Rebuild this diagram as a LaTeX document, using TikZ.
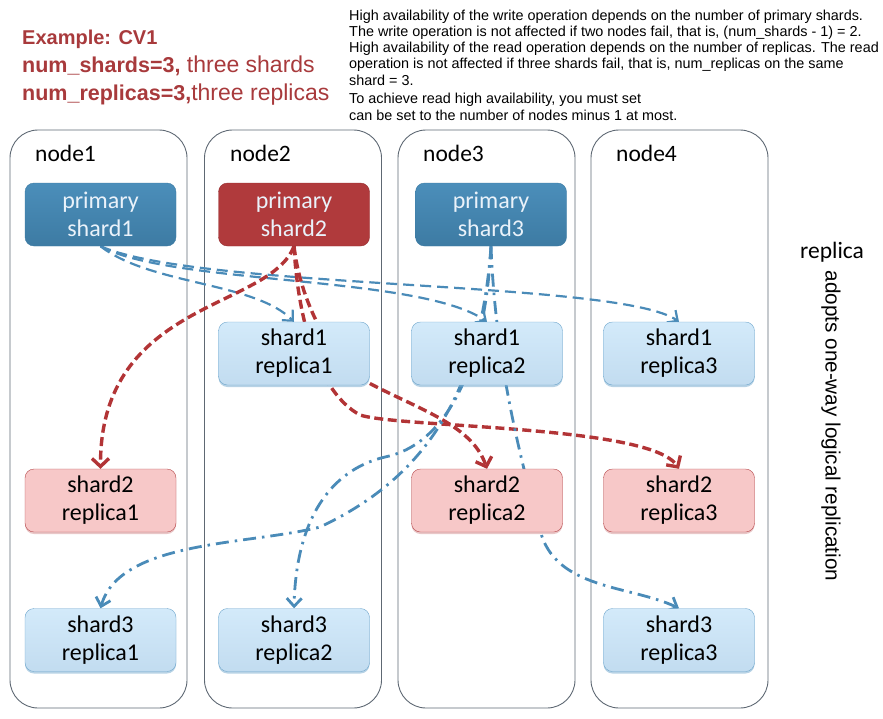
\documentclass[tikz,border=0pt]{standalone}
\usepackage{fontspec}
\setmainfont{Carlito}
\newfontfamily\arialf{Liberation Sans}
\usetikzlibrary{arrows.meta,shadows}
\definecolor{pblue}{HTML}{4B8EBA}
\definecolor{pblued}{HTML}{3D7BA3}
\definecolor{pred}{HTML}{B03A3C}
\definecolor{lblue}{HTML}{D3EAFA}
\definecolor{lblued}{HTML}{C2DCF0}
\definecolor{lbluebd}{HTML}{6FA6CC}
\definecolor{lred}{HTML}{F7C8C8}
\definecolor{lredbd}{HTML}{B5474A}
\definecolor{txtred}{HTML}{A83A3C}
\definecolor{contbd}{HTML}{5E6873}
\definecolor{lineblue}{HTML}{4A8BB8}
\definecolor{linered}{HTML}{B23436}
\definecolor{primtext}{HTML}{EAF2FA}
\pgfdeclarelayer{back}
\pgfdeclarelayer{mid}
\pgfsetlayers{back,mid,main}
\tikzset{
  container/.style={draw=contbd, line width=0.9pt, rounded corners=28pt, minimum width=177pt, minimum height=578pt, inner sep=0pt},
  nlabel/.style={anchor=west, inner sep=0pt, font=\fontsize{23.5}{28}\selectfont},
  box/.style={rounded corners=9pt, minimum width=151pt, minimum height=63pt, inner sep=0pt, align=center, font=\fontsize{24}{28}\selectfont},
  prim/.style={box, draw=pblued, top color=pblue, bottom color=pblued, text=primtext},
  primred/.style={box, fill=pred, draw=pred!85!black, text=primtext},
  rblue/.style={box, draw=lbluebd, top color=lblue, bottom color=lblued, text=black, drop shadow={shadow xshift=0pt, shadow yshift=-2pt, fill=lbluebd, opacity=0.5}},
  rred/.style={box, draw=lredbd, fill=lred, text=black, drop shadow={shadow xshift=0pt, shadow yshift=-2pt, fill=lredbd, opacity=0.3}},
  bdash/.style={draw=lineblue, line width=2.2pt, dash pattern=on 11pt off 6pt, -{Straight Barb[length=8pt,width=15pt]}},
  rdash/.style={draw=linered, line width=3.4pt, dash pattern=on 9pt off 4.5pt, -{Straight Barb[length=8pt,width=17pt]}},
  bdot/.style={draw=lineblue, line width=2.8pt, dash pattern=on 13pt off 6pt on 2.5pt off 6pt, -{Straight Barb[length=8pt,width=15pt]}},
  toptext/.style={anchor=base west, inner sep=0pt, font=\arialf\fontsize{14.4}{17}\selectfont},
}
\begin{document}
\begin{tikzpicture}[x=1pt, y=-1pt]
\useasboundingbox (0,0) rectangle (883,718);
% header texts
\node[anchor=base west, inner sep=0pt, text=txtred, font=\arialf\bfseries\fontsize{20}{24}\selectfont] (ex) at (22,44) {Example: CV1};
\node[anchor=base west, inner sep=0pt, text=txtred, font=\arialf] (ns) at (22,72) {\bfseries\fontsize{21.5}{24}\selectfont num\_shards=3,\mdseries\fontsize{23}{24}\selectfont\ three shards};
\node[anchor=base west, inner sep=0pt, text=txtred, font=\arialf] (nr) at (22,100) {\bfseries\fontsize{21.5}{24}\selectfont num\_replicas=3,\mdseries\fontsize{23}{24}\selectfont three replicas};
\node[toptext] (t1) at (349,20) {High availability of the write operation depends on the number of primary shards.};
\node[toptext] (t2) at (349,36) {The write operation is not affected if two nodes fail, that is, (num\_shards - 1) = 2.};
\node[toptext] (t3) at (349,52) {High availability of the read operation depends on the number of replicas. The read};
\node[toptext] (t4) at (349,68.5) {operation is not affected if three shards fail, that is, num\_replicas on the same};
\node[toptext] (t5) at (349,85) {shard = 3.};
\node[toptext] (t6) at (349,103) {To achieve read high availability, you must set};
\node[toptext] (t7) at (349,120) {can be set to the number of nodes minus 1 at most.};
% containers
\begin{pgfonlayer}{back}
\node[container] (n1) at (98.5,419) {};
\node[container] (n2) at (293,419) {};
\node[container] (n3) at (486.5,419) {};
\node[container] (n4) at (679.5,419) {};
\end{pgfonlayer}
\node[nlabel] (l1) at (35,153) {node1};
\node[nlabel] (l2) at (230,153) {node2};
\node[nlabel] (l3) at (423,153) {node3};
\node[nlabel] (l4) at (616,153) {node4};
% shard boxes
\node[prim] (p1) at (100.5,214.5) {primary\\shard1};
\node[primred] (p2) at (294,214.5) {primary\\shard2};
\node[prim] (p3) at (491,214.5) {primary\\shard3};
\node[rblue] (s1r1) at (294,353.5) {shard1\\replica1};
\node[rblue] (s1r2) at (487,353.5) {shard1\\replica2};
\node[rblue] (s1r3) at (679,353.5) {shard1\\replica3};
\node[rred] (s2r1) at (100.5,500.5) {shard2\\replica1};
\node[rred] (s2r2) at (487,500.5) {shard2\\replica2};
\node[rred] (s2r3) at (679,500.5) {shard2\\replica3};
\node[rblue] (s3r1) at (100.5,640) {shard3\\replica1};
\node[rblue] (s3r2) at (294,640) {shard3\\replica2};
\node[rblue] (s3r3) at (679,640) {shard3\\replica3};
% right texts
\node[anchor=base west, inner sep=0pt, font=\fontsize{23.5}{28}\selectfont] (rep) at (800,258) {replica};
\node[rotate=-90, inner sep=0pt, font=\arialf\fontsize{20.7}{24}\selectfont] (adopt) at (831,426) {adopts one-way logical replication};
% connectors
\begin{pgfonlayer}{mid}
\draw[bdash] (p1.south) .. controls (150,285) and (255,282) .. (s1r1.north);
\draw[bdash] (p1.south) .. controls (170,285) and (420,275) .. (s1r2.north);
\draw[bdash] (p1.south) .. controls (200,290) and (620,280) .. (s1r3.north);
\draw[rdash] (p2.south) .. controls (270,310) and (100,300) .. (s2r1.north);
\draw[rdash] (p2.south) .. controls (300,300) and (330,360) .. (367,382) .. controls (420,410) and (472,425) .. (s2r2.north);
\draw[rdash] (p2.south) .. controls (298,320) and (318,392) .. (360,415) .. controls (400,428) and (650,425) .. (s2r3.north);
\draw[bdot] (p3.south) .. controls (485,370) and (445,445) .. (385,457) .. controls (330,470) and (296,520) .. (s3r2.north);
\draw[bdot] (p3.south) .. controls (480,400) and (420,480) .. (320,527) .. controls (250,545) and (120,540) .. (s3r1.north);
\draw[bdot] (p3.south) .. controls (495,350) and (515,440) .. (540,530) .. controls (555,590) and (630,585) .. (s3r3.north);
\end{pgfonlayer}
\end{tikzpicture}
\end{document}
